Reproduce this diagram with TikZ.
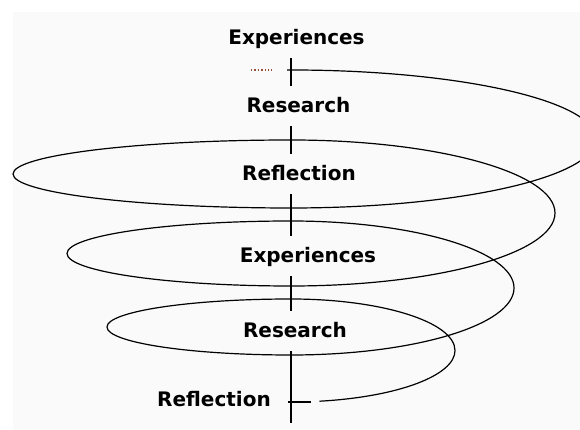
\documentclass[tikz,border=0pt]{standalone}
\usepackage{fontspec}
\setmainfont{DejaVu Sans}

\begin{document}
\begin{tikzpicture}[x=1pt,y=1pt,
  lbl/.style={anchor=base,font=\fontsize{20}{24}\selectfont\bfseries,text height=19pt,text depth=5pt,inner xsep=2pt,inner ysep=8pt},
  ax/.style={line width=1.4pt,black},
  coil/.style={line width=1.2pt,black}]
\definecolor{dotbrown}{RGB}{150,80,60}
\useasboundingbox(0,0) rectangle (580,430);
\fill[white](0,0) rectangle (580,430);
\fill[black!2](13,0) rectangle (580,418);
\clip(0,0) rectangle (580,430);
\node[lbl](exp1) at(296.5,385){Experiences};
\node[lbl](res1) at(298.5,317){Research};
\node[lbl](ref1) at(299,249){Reflection};
\node[lbl](exp2) at(308,167){Experiences};
\node[lbl](res2) at(295,92){Research};
\node[lbl](ref2) at(214,23){Reflection};
\coordinate(p0) at(291,360);
\coordinate(bot) at(291,7);
\coordinate(tickl) at(288,28);
\coordinate(tickr) at(311,28);
\draw[ax](exp1.south -| p0)--(res1.north -| p0);
\draw[ax](res1.south -| p0)--(ref1.north -| p0);
\draw[ax](ref1.south -| p0)--(exp2.north -| p0);
\draw[ax](exp2.south -| p0)--(res2.north -| p0);
\draw[ax](res2.south -| p0)--(bot);
\draw[ax](tickl)--(tickr);
\draw[line width=1.6pt,dash pattern=on 1.4pt off 2pt,dotbrown](251,360)--(272,360);
% the coil, half turns front and back
\draw[coil](287,360)--(p0)
  arc[start angle=90,end angle=-90,x radius=305,y radius=69]
  arc[start angle=270,end angle=90,x radius=278,y radius=34]
  arc[start angle=90,end angle=-90,x radius=264,y radius=73]
  arc[start angle=270,end angle=90,x radius=224,y radius=32.5]
  arc[start angle=90,end angle=-90,x radius=223,y radius=67]
  arc[start angle=270,end angle=90,x radius=184,y radius=28]
  arc[start angle=90,end angle=-80,x radius=164,y radius=51.5];
\end{tikzpicture}
\end{document}
